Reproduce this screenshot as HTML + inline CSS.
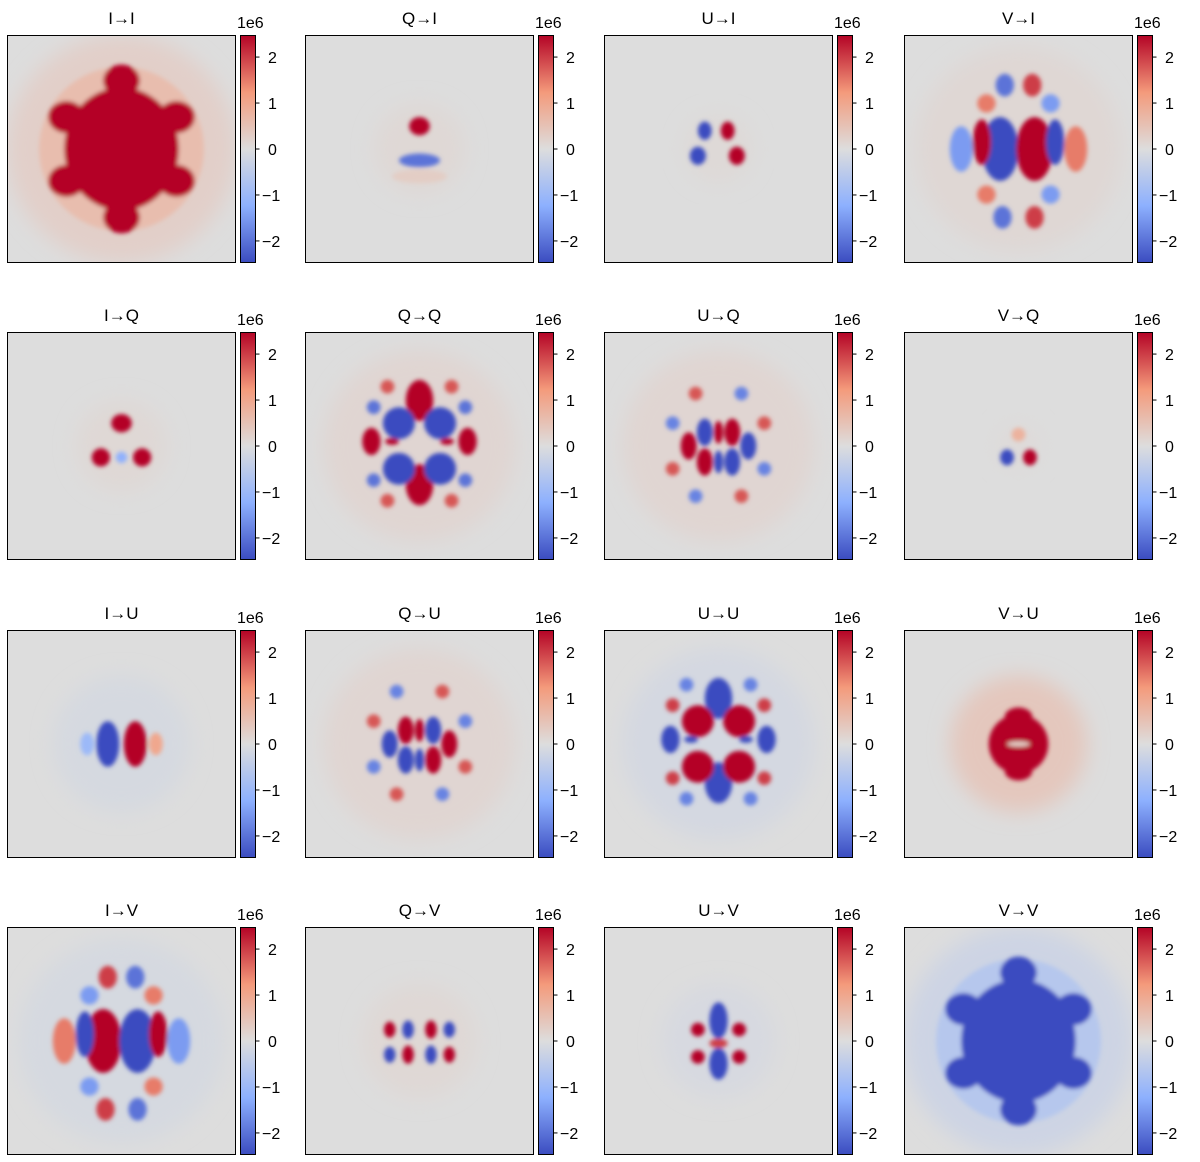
<!DOCTYPE html>
<html><head><meta charset="utf-8"><style>
html,body{margin:0;padding:0;background:#fff;}
svg{display:block;font-family:"Liberation Sans","DejaVu Sans",sans-serif;}
</style></head><body>
<svg id="fig" width="1200" height="1162" viewBox="0 0 1200 1162" xmlns="http://www.w3.org/2000/svg">
<defs>
<filter id="blur" x="-20%" y="-20%" width="140%" height="140%"><feGaussianBlur stdDeviation="2.2"/></filter>
<filter id="blurWide" x="-30%" y="-30%" width="160%" height="160%"><feGaussianBlur stdDeviation="10"/></filter>
<linearGradient id="cw" x1="0" y1="0" x2="0" y2="1">
<stop offset="0" stop-color="#b40426"/><stop offset="0.25" stop-color="#f49a7b"/><stop offset="0.5" stop-color="#dddddd"/><stop offset="0.75" stop-color="#8db0fe"/><stop offset="1" stop-color="#3b4cc0"/>
</linearGradient>
</defs>
</svg>
<script>
// Panel titles (row = output, col = input)
const titles = ["I→I","Q→I","U→I","V→I","I→Q","Q→Q","U→Q","V→Q","I→U","Q→U","U→U","V→U","I→V","Q→V","U→V","V→V"];
const cbTicks = [2,1,0,-1,-2];
const cbTickLabels = ["2","1","0","−1","−2"];
const cbMin = -2.48, cbMax = 2.48;
// halos: faint background [cx, cy, rx, ry, value(1e6)]
const halos = [[0.5,0.5,0.5,0.5,0.25],[0.5,0.5,0.2,0.2,0.1],[0.5,0.5,0.15,0.15,0.08],[0.5,0.5,0.45,0.45,0.12],
 [0.5,0.5,0.2,0.2,0.1],[0.5,0.5,0.42,0.42,0.14],[0.5,0.5,0.42,0.42,0.14],[0.5,0.5,0.1,0.1,0.05],
 [0.5,0.5,0.3,0.3,-0.12],[0.5,0.5,0.42,0.42,0.14],[0.5,0.5,0.42,0.42,-0.14],[0.5,0.5,0.3,0.3,0.4],
 [0.5,0.5,0.45,0.45,-0.12],[0.5,0.5,0.25,0.25,0.1],[0.5,0.5,0.25,0.25,-0.1],[0.5,0.5,0.5,0.5,-0.25]];
// blobs: [cx, cy, rx, ry, value(1e6)] in panel fractions
const blobs = [
 // I→I
 [[0.5,0.5,0.25,0.27,2.5],[0.5,0.2,0.08,0.07,2.5],[0.5,0.8,0.08,0.07,2.5],[0.26,0.36,0.08,0.07,2.5],[0.74,0.36,0.08,0.07,2.5],[0.26,0.64,0.08,0.07,2.5],[0.74,0.64,0.08,0.07,2.5],[0.5,0.5,0.36,0.36,0.6]],
 // Q→I
 [[0.5,0.4,0.045,0.04,2.5],[0.5,0.55,0.09,0.03,-2.0],[0.5,0.62,0.12,0.03,0.3]],
 // U→I
 [[0.44,0.42,0.03,0.04,-2.5],[0.41,0.53,0.035,0.04,-2.5],[0.54,0.42,0.03,0.04,2.5],[0.58,0.53,0.035,0.04,2.5]],
 // V→I
 [[0.42,0.5,0.08,0.14,-2.5],[0.57,0.5,0.08,0.14,2.5],[0.34,0.47,0.04,0.1,2.5],[0.66,0.47,0.04,0.1,-2.5],[0.25,0.5,0.05,0.1,-1.5],[0.75,0.5,0.05,0.1,1.5],[0.44,0.22,0.04,0.05,-2.0],[0.56,0.22,0.04,0.05,2.0],[0.43,0.8,0.04,0.05,-2.0],[0.57,0.8,0.04,0.05,2.0],[0.36,0.3,0.04,0.04,1.5],[0.64,0.3,0.04,0.04,-1.5],[0.36,0.7,0.04,0.04,1.5],[0.64,0.7,0.04,0.04,-1.5]],
 // I→Q
 [[0.5,0.4,0.045,0.04,2.5],[0.41,0.55,0.04,0.04,2.5],[0.59,0.55,0.04,0.04,2.5],[0.5,0.55,0.025,0.025,-1.2]],
 // Q→Q
 [[0.41,0.4,0.07,0.07,-2.5],[0.59,0.4,0.07,0.07,-2.5],[0.41,0.6,0.07,0.07,-2.5],[0.59,0.6,0.07,0.07,-2.5],[0.5,0.3,0.06,0.09,2.5],[0.5,0.67,0.06,0.09,2.5],[0.29,0.48,0.04,0.06,2.5],[0.71,0.48,0.04,0.06,2.5],[0.38,0.48,0.03,0.015,2.5],[0.62,0.48,0.03,0.015,2.5],[0.3,0.33,0.03,0.03,-2],[0.7,0.33,0.03,0.03,-2],[0.3,0.65,0.03,0.03,-2],[0.7,0.65,0.03,0.03,-2],[0.36,0.24,0.03,0.03,1.8],[0.64,0.24,0.03,0.03,1.8],[0.36,0.74,0.03,0.03,1.8],[0.64,0.74,0.03,0.03,1.8]],
 // U→Q
 [[0.37,0.5,0.035,0.06,2.5],[0.63,0.5,0.035,0.06,-2.5],[0.44,0.44,0.035,0.06,-2.5],[0.44,0.57,0.035,0.06,2.5],[0.56,0.44,0.035,0.06,2.5],[0.56,0.57,0.035,0.06,-2.5],[0.5,0.44,0.02,0.05,2.5],[0.5,0.57,0.02,0.05,-2.5],[0.3,0.4,0.03,0.03,-1.8],[0.7,0.4,0.03,0.03,1.8],[0.3,0.6,0.03,0.03,1.8],[0.7,0.6,0.03,0.03,-1.8],[0.4,0.27,0.03,0.03,1.8],[0.6,0.27,0.03,0.03,-1.8],[0.4,0.72,0.03,0.03,-1.8],[0.6,0.72,0.03,0.03,1.8]],
 // V→Q
 [[0.45,0.55,0.03,0.035,-2.5],[0.55,0.55,0.03,0.035,2.5],[0.5,0.45,0.03,0.03,0.8]],
 // I→U
 [[0.44,0.5,0.05,0.1,-2.5],[0.56,0.5,0.05,0.1,2.5],[0.35,0.5,0.03,0.05,-1],[0.65,0.5,0.03,0.05,1]],
 // Q→U
 [[0.37,0.5,0.035,0.06,-2.5],[0.63,0.5,0.035,0.06,2.5],[0.44,0.44,0.035,0.06,2.5],[0.44,0.57,0.035,0.06,-2.5],[0.56,0.44,0.035,0.06,-2.5],[0.56,0.57,0.035,0.06,2.5],[0.5,0.44,0.02,0.05,2.5],[0.5,0.57,0.02,0.05,-2.5],[0.3,0.4,0.03,0.03,1.8],[0.7,0.4,0.03,0.03,-1.8],[0.3,0.6,0.03,0.03,-1.8],[0.7,0.6,0.03,0.03,1.8],[0.4,0.27,0.03,0.03,-1.8],[0.6,0.27,0.03,0.03,1.8],[0.4,0.72,0.03,0.03,1.8],[0.6,0.72,0.03,0.03,-1.8]],
 // U→U
 [[0.41,0.4,0.07,0.07,2.5],[0.59,0.4,0.07,0.07,2.5],[0.41,0.6,0.07,0.07,2.5],[0.59,0.6,0.07,0.07,2.5],[0.5,0.3,0.06,0.09,-2.5],[0.5,0.67,0.06,0.09,-2.5],[0.29,0.48,0.04,0.06,-2.5],[0.71,0.48,0.04,0.06,-2.5],[0.38,0.48,0.03,0.015,-2.5],[0.62,0.48,0.03,0.015,-2.5],[0.3,0.33,0.03,0.03,2],[0.7,0.33,0.03,0.03,2],[0.3,0.65,0.03,0.03,2],[0.7,0.65,0.03,0.03,2],[0.36,0.24,0.03,0.03,-1.8],[0.64,0.24,0.03,0.03,-1.8],[0.36,0.74,0.03,0.03,-1.8],[0.64,0.74,0.03,0.03,-1.8]],
 // V→U
 [[0.5,0.5,0.13,0.13,2.5],[0.5,0.38,0.06,0.04,2.5],[0.5,0.62,0.06,0.04,2.5],[0.5,0.5,0.05,0.012,0.3]],
 // I→V
 [[0.42,0.5,0.08,0.14,2.5],[0.57,0.5,0.08,0.14,-2.5],[0.34,0.47,0.04,0.1,-2.5],[0.66,0.47,0.04,0.1,2.5],[0.25,0.5,0.05,0.1,1.5],[0.75,0.5,0.05,0.1,-1.5],[0.44,0.22,0.04,0.05,2.0],[0.56,0.22,0.04,0.05,-2.0],[0.43,0.8,0.04,0.05,2.0],[0.57,0.8,0.04,0.05,-2.0],[0.36,0.3,0.04,0.04,-1.5],[0.64,0.3,0.04,0.04,1.5],[0.36,0.7,0.04,0.04,-1.5],[0.64,0.7,0.04,0.04,1.5]],
 // Q→V
 [[0.37,0.45,0.025,0.035,2.5],[0.45,0.45,0.025,0.04,-2.5],[0.55,0.45,0.025,0.04,2.5],[0.63,0.45,0.025,0.035,-2.5],[0.37,0.56,0.025,0.035,-2.5],[0.45,0.56,0.025,0.04,2.5],[0.55,0.56,0.025,0.04,-2.5],[0.63,0.56,0.025,0.035,2.5]],
 // U→V
 [[0.5,0.41,0.04,0.08,-2.5],[0.5,0.6,0.04,0.07,-2.5],[0.41,0.45,0.03,0.03,2.5],[0.59,0.45,0.03,0.03,2.5],[0.41,0.57,0.03,0.03,2.5],[0.59,0.57,0.03,0.03,2.5],[0.5,0.51,0.04,0.02,2.0]],
 // V→V
 [[0.5,0.5,0.25,0.27,-2.5],[0.5,0.2,0.08,0.07,-2.5],[0.5,0.8,0.08,0.07,-2.5],[0.26,0.36,0.08,0.07,-2.5],[0.74,0.36,0.08,0.07,-2.5],[0.26,0.64,0.08,0.07,-2.5],[0.74,0.64,0.08,0.07,-2.5],[0.5,0.5,0.36,0.36,-0.6]]
];
const NS="http://www.w3.org/2000/svg";
const svg=document.getElementById('fig');
const colX=[0,298,597,897], rowY=[0,297,595,892];
const IMX=7, IMY=35, IMW=229, IMH=228, CBX=240, CBW=15;
const stops=[[-1,[59,76,192]],[-0.5,[141,176,254]],[0,[221,221,221]],[0.5,[244,154,123]],[1,[180,4,38]]];
function cmap(v){let t=Math.max(-1,Math.min(1,v/cbMax));for(let i=0;i<stops.length-1;i++){const a=stops[i],b=stops[i+1];if(t<=b[0]){const f=(t-a[0])/(b[0]-a[0]);const c=a[1].map((x,k)=>Math.round(x+(b[1][k]-x)*f));return `rgb(${c.join(',')})`;}}return 'rgb(180,4,38)';}
function cbY(v,oy){return oy+IMY+(cbMax-v)/(cbMax-cbMin)*IMH;}
function mk(tag,attrs){const e=document.createElementNS(NS,tag);for(const k in attrs)e.setAttribute(k,attrs[k]);return e;}
titles.forEach((t,i)=>{
 const ox=colX[i%4], oy=rowY[Math.floor(i/4)];
 const g=mk('g',{});
 
 
 svg.appendChild(g);
 const cid='clip'+i;
 const cp=mk('clipPath',{id:cid});cp.appendChild(mk('rect',{x:ox+IMX,y:oy+IMY,width:IMW,height:IMH}));g.appendChild(cp);
 const bg=mk('rect',{x:ox+IMX,y:oy+IMY,width:IMW,height:IMH,fill:'#dddddd'});
 
 
 g.appendChild(bg);
 const gc=mk('g',{'clip-path':`url(#${cid})`});g.appendChild(gc);
 const h=halos[i];
 const he=mk('ellipse',{cx:ox+IMX+h[0]*IMW,cy:oy+IMY+h[1]*IMH,rx:h[2]*IMW,ry:h[3]*IMH,fill:cmap(h[4]),filter:'url(#blurWide)'});
 
 
 gc.appendChild(he);
 const gb=mk('g',{filter:'url(#blur)'});gc.appendChild(gb);
 const list=blobs[i].slice().sort((a,b)=>(b[2]*b[3])-(a[2]*a[3]));
 list.forEach(b=>{
  const e=mk('ellipse',{cx:ox+IMX+b[0]*IMW,cy:oy+IMY+b[1]*IMH,rx:b[2]*IMW,ry:b[3]*IMH,fill:cmap(b[4])});
  
  
  gb.appendChild(e);
 });
 g.appendChild(mk('rect',{x:ox+IMX+0.5,y:oy+IMY+0.5,width:IMW-1,height:IMH-1,fill:'none',stroke:'#000','stroke-width':1}));
 const tt=mk('text',{x:ox+IMX+IMW/2,y:oy+24,'text-anchor':'middle','font-size':17,fill:'#000'});tt.textContent=t;
 
 
 g.appendChild(tt);
 const cb=mk('rect',{x:ox+CBX+0.5,y:oy+IMY+0.5,width:CBW,height:IMH-1,fill:'url(#cw)',stroke:'#000','stroke-width':1});
 
 
 g.appendChild(cb);
 const ex=mk('text',{x:ox+CBX-3,y:oy+28,'font-size':16,fill:'#000'});ex.textContent='1e6';
 
 
 g.appendChild(ex);
 cbTicks.forEach((v,k)=>{
  const y=cbY(v,oy);
  g.appendChild(mk('line',{x1:ox+CBX+CBW+0.5,x2:ox+CBX+CBW+4.5,y1:y,y2:y,stroke:'#000','stroke-width':1}));
  const tl=mk('text',{x:ox+CBX+CBW+(v<0?7:13),y:y+6,'font-size':16,fill:'#000'});tl.textContent=cbTickLabels[k];
  
  
  g.appendChild(tl);
 });
});
</script>
</body></html>
